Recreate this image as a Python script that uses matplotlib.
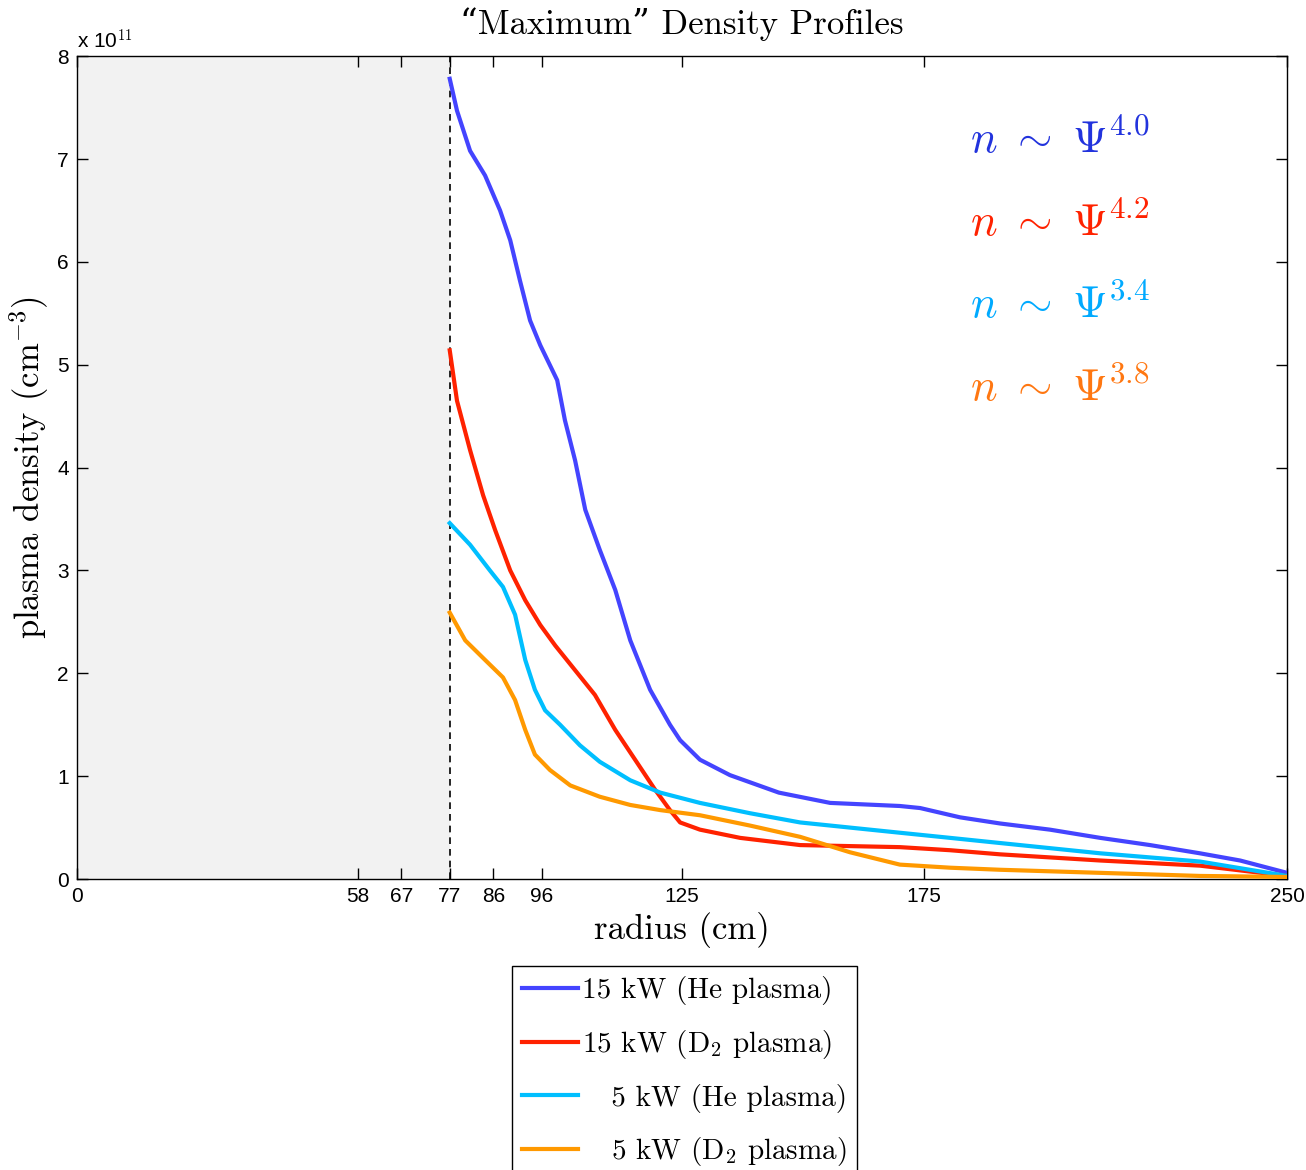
"""Recreate the "Maximum" density profile chart"""

import matplotlib
matplotlib.use("Agg")
from matplotlib import pyplot as plt

plt.rcParams['mathtext.fontset'] = 'cm'
plt.rcParams['axes.unicode_minus'] = False

SERIF = ['cmr10', 'DejaVu Serif']
SANS = ['Liberation Sans', 'DejaVu Sans']

# x ticks (radius in cm) and the vessel edge
x_ticks = [0, 58, 67, 77, 86, 96, 125, 175, 250]
y_ticks = [0, 1, 2, 3, 4, 5, 6, 7, 8]
wall_radius = 77

# density profiles, in units of 1e11 cm^-3
r_he15 = [77, 78.5, 81.2, 84.3, 87.4, 89.5, 91.5, 93.6, 95.7, 99.2, 100.8,
          102.9, 105, 108, 111.2, 114.3, 118.4, 122.5, 124.6, 128.7, 134.9,
          145, 155.6, 170, 174.2, 182.4, 190.7, 201, 211.4, 221.7, 232,
          240.3, 250]
n_he15 = [7.78, 7.47, 7.08, 6.84, 6.50, 6.21, 5.82, 5.43, 5.19, 4.85, 4.46,
          4.07, 3.59, 3.20, 2.81, 2.32, 1.84, 1.50, 1.35, 1.16, 1.01,
          0.84, 0.74, 0.71, 0.69, 0.60, 0.54, 0.48, 0.40, 0.33, 0.25,
          0.18, 0.06]

r_d15 = [77, 78.5, 81.2, 83.9, 86.4, 89.5, 92.6, 95.7, 98.8, 102.9, 107,
         111.2, 115.3, 119.4, 122.5, 124.6, 128.7, 137, 149.4, 159.7, 170,
         180.4, 190.7, 211.4, 232, 250]
n_d15 = [5.14, 4.65, 4.17, 3.73, 3.39, 3.00, 2.71, 2.47, 2.27, 2.03, 1.79,
         1.45, 1.16, 0.87, 0.67, 0.55, 0.48, 0.40, 0.33, 0.32, 0.31,
         0.28, 0.24, 0.18, 0.13, 0.03]

r_he5 = [77, 81.2, 85.3, 88, 90.5, 92.6, 94.6, 96.7, 99.8, 103.9, 108,
         114.3, 120.5, 128.7, 139, 149.4, 159.7, 170, 180.4, 190.7, 211.4,
         232, 250]
n_he5 = [3.46, 3.25, 3.00, 2.84, 2.57, 2.13, 1.84, 1.64, 1.50, 1.30, 1.14,
         0.96, 0.84, 0.74, 0.64, 0.55, 0.50, 0.45, 0.40, 0.35, 0.25,
         0.17, 0.03]

r_d5 = [77, 80.2, 84.3, 88, 90.5, 92.6, 94.6, 97.7, 101.9, 108, 114.3,
        120.5, 128.7, 139, 149.4, 159.7, 170, 180.4, 190.7, 211.4, 232, 250]
n_d5 = [2.59, 2.32, 2.13, 1.96, 1.74, 1.45, 1.21, 1.06, 0.91, 0.80, 0.72,
        0.67, 0.62, 0.52, 0.41, 0.26, 0.14, 0.11, 0.09, 0.06, 0.03, 0.02]

labels = ['15 kW (He plasma)', r'15 kW (D$_2$ plasma)',
          '   5 kW (He plasma)', r'   5 kW (D$_2$ plasma)']
exponents = ['4.0', '4.2', '3.4', '3.8']
line_colors = ['#4444ff', '#ff2200', '#00bfff', '#ff9900']
text_colors = ['#2233dd', '#ff2200', '#00aaff', '#ff7711']


def main():
    fig = plt.figure(figsize=(13.06, 11.70), dpi=100)
    ax = fig.add_axes([0.059, 0.2487, 0.9265, 0.7033])

    # shaded region inside the wall
    ax.axvspan(0, wall_radius, color='#f2f2f2', lw=0, zorder=0)
    ax.axvline(wall_radius, color='black', ls=(0, (4, 3)), lw=1.2, zorder=1)

    series = [(r_he15, n_he15), (r_d15, n_d15), (r_he5, n_he5), (r_d5, n_d5)]
    handles = []
    for (r, n), c, lab in zip(series, line_colors, labels):
        h, = ax.plot(r, n, color=c, lw=3, label=lab, zorder=3)
        handles.append(h)

    # power-law annotations
    y_text = [7.18, 6.38, 5.58, 4.77]
    for yt, ex, c in zip(y_text, exponents, text_colors):
        ax.text(184.5, yt, r'$n\ \sim\ \Psi^{%s}$' % ex, color=c,
                fontsize=32, va='center', ha='left')

    ax.set_xlim(0, 250)
    ax.set_ylim(0, 8)
    ax.set_xticks(x_ticks)
    ax.set_yticks(y_ticks)
    ax.tick_params(direction='in', top=True, right=True, length=8,
                   width=1, labelsize=15, pad=6)
    for lab in ax.get_xticklabels() + ax.get_yticklabels():
        lab.set_family(SANS)
    for s in ax.spines.values():
        s.set_linewidth(1)

    ax.text(0, 1.004, r'x 10$^{11}$', transform=ax.transAxes,
            fontsize=15, family=SANS, ha='left', va='bottom')

    ax.set_xlabel('radius (cm)', fontsize=25, family=SERIF, labelpad=4)
    ax.set_ylabel(r'plasma density (cm$^{-3}$)', fontsize=25, family=SERIF,
                  labelpad=4)
    ax.set_title('\u201cMaximum\u201d Density Profiles', fontsize=25,
                 family=SERIF, pad=16)

    # legend hangs below the axes and runs off the bottom edge
    leg = fig.legend(handles=handles, loc='upper left',
                     bbox_to_anchor=(0.392, 0.1744), borderaxespad=0,
                     fancybox=False, edgecolor='black', framealpha=1,
                     handlelength=1.9, handletextpad=0.15, labelspacing=0.78,
                     borderpad=0.35, prop={'family': SERIF, 'size': 21})
    leg.get_frame().set_linewidth(1)

    fig.savefig('out.png', dpi=100)


if __name__ == "__main__":
    main()
